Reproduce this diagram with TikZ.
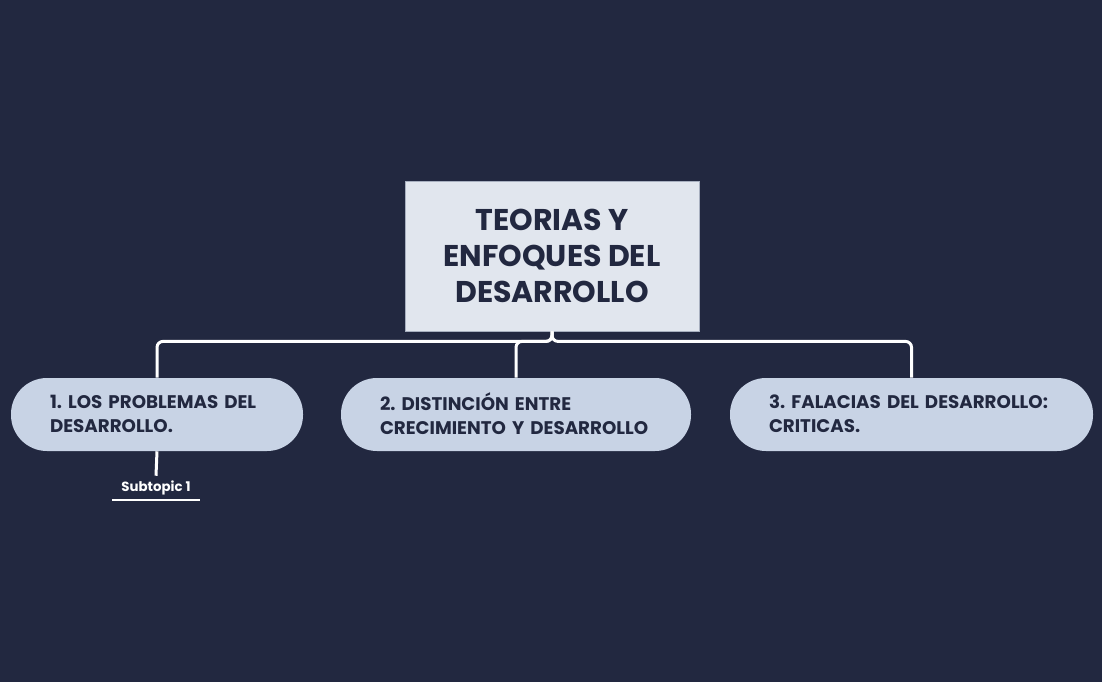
\documentclass[tikz,border=0pt]{standalone}
\usepackage{fontspec}
\setmainfont{Poppins}
\frenchspacing
\definecolor{bgcol}{HTML}{222840}
\definecolor{rootfill}{HTML}{E1E6EE}
\definecolor{rootline}{HTML}{A7AFBF}
\definecolor{topicfill}{HTML}{C8D3E5}
\definecolor{inkcol}{HTML}{222840}
\tikzset{
	root/.style={rectangle,draw=rootline,line width=0.6pt,fill=rootfill,text=inkcol,font=\fontsize{22.5}{27}\selectfont\bfseries,align=center,minimum width={294*0.75pt},minimum height={150*0.75pt},inner sep=0pt},
	topic/.style={rectangle,rounded corners={36*0.75pt},fill=topicfill,text=inkcol,font=\fontsize{13.7}{18}\selectfont\bfseries,align=left,minimum height={73*0.75pt},inner xsep={39*0.75pt},inner ysep=0pt,text depth=19.5pt},
	link/.style={draw=white,line width={3*0.75pt},rounded corners={6*0.75pt}},
	subtopic/.style={text=white,font=\fontsize{10}{12}\selectfont\bfseries,minimum width={87*0.75pt},minimum height={24*0.75pt},inner sep=0pt}
}
\newcommand{\topicnode}[4][]{\node[topic,#1] at (#2) (#3) {#4}}

\begin{document}
\begin{tikzpicture}[x=0.75pt,y=-0.75pt]
				\fill[bgcol] (0,0) rectangle (1102,682);
				\useasboundingbox (0,0) rectangle (1102,682);
				
				\node[root] at (552,256) (main) {TEORIAS Y\\ENFOQUES DEL\\DESARROLLO};
				
				\topicnode[text width={214*0.75pt}]{157,414.5}{t1}{1. LOS PROBLEMAS DEL\\DESARROLLO.};
				\topicnode[text width={272*0.75pt}]{516,414.5}{t2}{2. DISTINCIÓN ENTRE\\CRECIMIENTO Y DESARROLLO};
				\topicnode[text width={285*0.75pt}]{911.5,414.5}{t3}{3. FALACIAS DEL DESARROLLO:\\CRITICAS.};
				
				\node[subtopic] at (156,488) (s1) {Subtopic 1};
				
				\draw[link] (main.south) -- ++(0,10) -| (t1.north);
				\draw[link] (main.south) -- ++(0,10) -| (t2.north);
				\draw[link] (main.south) -- ++(0,10) -| (t3.north);
				\draw[link] (t1.south) -- (s1.north);
				\draw[white,line width={2*0.75pt}] (s1.south west) -- (s1.south east);
				
\end{tikzpicture}
\end{document}
